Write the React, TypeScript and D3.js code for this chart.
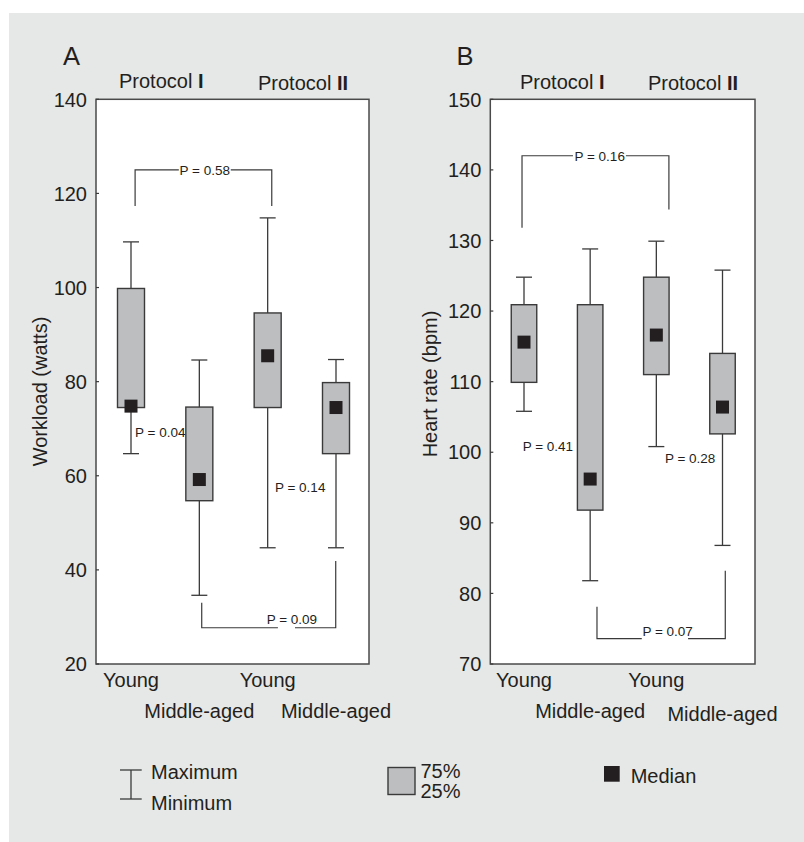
import React from "react";
import * as d3 from "d3";

// ---------- data ----------
const groups = ["Young", "Middle-aged", "Young", "Middle-aged"];
const protocols = ["I", "II"];

const workloadMin = [64.7, 34.6, 44.7, 44.7];
const workloadQ1 = [74.5, 54.7, 74.5, 64.7];
const workloadMedian = [74.8, 59.2, 85.5, 74.5];
const workloadQ3 = [99.8, 74.6, 94.6, 79.8];
const workloadMax = [109.7, 84.6, 114.8, 84.7];
const workloadTicks = [20, 40, 60, 80, 100, 120, 140];

const heartMin = [105.8, 81.8, 100.8, 86.8];
const heartQ1 = [109.9, 91.8, 111.0, 102.6];
const heartMedian = [115.6, 96.2, 116.6, 106.4];
const heartQ3 = [120.9, 120.9, 124.8, 114.0];
const heartMax = [124.8, 128.8, 129.9, 125.8];
const heartTicks = [70, 80, 90, 100, 110, 120, 130, 140, 150];

// annotations in data units (x = category index, y = value)
const workloadBrackets = [
  {
    label: "P = 0.58",
    segments: [
      [[0.06, 117.3], [0.06, 125], [0.7, 125]],
      [[1.46, 125], [2.06, 125], [2.06, 117.3]],
    ],
    text: [1.08, 125],
    anchor: "middle",
  },
  {
    label: "P = 0.09",
    segments: [
      [[1.035, 33.0], [1.035, 27.7], [2.15, 27.7]],
      [[2.4, 27.7], [2.996, 27.7], [2.996, 41.9]],
    ],
    text: [1.986, 29.5],
    anchor: "start",
  },
];
const workloadNotes = [
  { label: "P = 0.04", at: [0.06, 69.2] },
  { label: "P = 0.14", at: [2.107, 57.5] },
];

const heartBrackets = [
  {
    label: "P = 0.16",
    segments: [
      [[-0.03, 131.8], [-0.03, 142], [0.74, 142]],
      [[1.54, 142], [2.19, 142], [2.19, 134.4]],
    ],
    text: [1.144, 142],
    anchor: "middle",
  },
  {
    label: "P = 0.07",
    segments: [
      [[1.103, 78.1], [1.103, 73.6], [1.78, 73.6]],
      [[2.48, 73.6], [3.042, 73.6], [3.042, 83.2]],
    ],
    text: [1.79, 74.7],
    anchor: "start",
  },
];
const heartNotes = [
  { label: "P = 0.41", at: [-0.02, 100.8] },
  { label: "P = 0.28", at: [2.13, 99.1] },
];

// ---------- styles ----------
const FONT = "'Liberation Sans', Arial, Helvetica, sans-serif";
const TEXT = "#231f20";
const LINE = "#3a3a3a";
const BOXFILL = "#bdbec0";
const BG = "#e6e7e7";
const FS = 20;
const PFS = 13.5;

type PanelProps = {
  letter: string;
  letterX: number;
  left: number;
  right: number;
  catRange: [number, number];
  domain: [number, number];
  ticks: number[];
  mins: number[];
  q1: number[];
  med: number[];
  q3: number[];
  maxs: number[];
  boxW: number;
  yLabel: string;
  yLabelX: number;
  yLabelY: number;
  protoPos: { x: number; y: number }[];
  brackets: any[];
  notes: any[];
  xLabelY: number[];
};

function Panel(p: PanelProps) {
  const top = 99.3;
  const bottom = 664;
  const y = d3.scaleLinear().domain(p.domain).range([bottom, top]);
  const xi = d3.scaleLinear().domain([0, groups.length - 1]).range(p.catRange);
  const capW = 16;
  const medS = 13;
  const line = d3
    .line<number[]>()
    .x((d) => xi(d[0]))
    .y((d) => y(d[1]));

  return (
    <g>
      <text x={p.letterX} y={65} fontSize={25.5} fill={TEXT} fontFamily={FONT}>
        {p.letter}
      </text>
      {protocols.map((pr, i) => (
        <text
          key={pr}
          x={p.protoPos[i].x}
          y={p.protoPos[i].y}
          fontSize={FS}
          fill={TEXT}
          fontFamily={FONT}
        >
          Protocol <tspan fontWeight="bold">{pr}</tspan>
        </text>
      ))}
      <rect
        x={p.left}
        y={top}
        width={p.right - p.left}
        height={bottom - top}
        fill="#ffffff"
        stroke="#4a4a4a"
        strokeWidth={1.5}
      />
      {p.ticks.map((t) => (
        <g key={t}>
          <line
            x1={p.left}
            x2={p.left + 3}
            y1={y(t)}
            y2={y(t)}
            stroke={LINE}
            strokeWidth={1.2}
          />
          <text
            x={p.left - 9}
            y={y(t)}
            dy="0.36em"
            textAnchor="end"
            fontSize={FS}
            fill={TEXT}
            fontFamily={FONT}
          >
            {t}
          </text>
        </g>
      ))}
      <text
        transform={`translate(${p.yLabelX},${p.yLabelY}) rotate(-90)`}
        textAnchor="middle"
        fontSize={FS}
        fill={TEXT}
        fontFamily={FONT}
      >
        {p.yLabel}
      </text>
      {groups.map((g, i) => {
        const cx = xi(i);
        return (
          <g key={i}>
            <line x1={cx} x2={cx} y1={y(p.maxs[i])} y2={y(p.mins[i])} stroke={LINE} strokeWidth={1.3} />
            <line x1={cx - capW / 2} x2={cx + capW / 2} y1={y(p.maxs[i])} y2={y(p.maxs[i])} stroke={LINE} strokeWidth={1.3} />
            <line x1={cx - capW / 2} x2={cx + capW / 2} y1={y(p.mins[i])} y2={y(p.mins[i])} stroke={LINE} strokeWidth={1.3} />
            <rect
              x={cx - p.boxW / 2}
              y={y(p.q3[i])}
              width={p.boxW}
              height={y(p.q1[i]) - y(p.q3[i])}
              fill={BOXFILL}
              stroke={LINE}
              strokeWidth={1.4}
            />
            <rect
              x={cx - medS / 2}
              y={y(p.med[i]) - medS / 2}
              width={medS}
              height={medS}
              fill={TEXT}
            />
            <text
              x={cx}
              y={p.xLabelY[i]}
              textAnchor="middle"
              fontSize={FS}
              fill={TEXT}
              fontFamily={FONT}
            >
              {g}
            </text>
          </g>
        );
      })}
      {p.brackets.map((b, i) => (
        <g key={i}>
          {b.segments.map((s: number[][], j: number) => (
            <path key={j} d={line(s) || ""} fill="none" stroke={LINE} strokeWidth={1.2} />
          ))}
          <text
            x={xi(b.text[0])}
            y={y(b.text[1]) + 4.8}
            textAnchor={b.anchor}
            fontSize={PFS}
            fill={TEXT}
            fontFamily={FONT}
          >
            {b.label}
          </text>
        </g>
      ))}
      {p.notes.map((n, i) => (
        <text
          key={i}
          x={xi(n.at[0])}
          y={y(n.at[1]) + 4.8}
          fontSize={PFS}
          fill={TEXT}
          fontFamily={FONT}
        >
          {n.label}
        </text>
      ))}
    </g>
  );
}

export default function App() {
  return (
    <svg
      width={804}
      height={842}
      style={{ position: "absolute", left: 0, top: 0 }}
      xmlns="http://www.w3.org/2000/svg"
    >
      <rect x={0} y={0} width={804} height={842} fill="#ffffff" />
      <rect x={9} y={13} width={795} height={829} fill={BG} />
      <Panel
        letter="A"
        letterX={63}
        left={96}
        right={369}
        catRange={[131, 336]}
        domain={[20, 140]}
        ticks={workloadTicks}
        mins={workloadMin}
        q1={workloadQ1}
        med={workloadMedian}
        q3={workloadQ3}
        maxs={workloadMax}
        boxW={27}
        yLabel="Workload (watts)"
        yLabelX={47}
        yLabelY={391.5}
        protoPos={[
          { x: 119, y: 87.5 },
          { x: 258, y: 90 },
        ]}
        brackets={workloadBrackets}
        notes={workloadNotes}
        xLabelY={[687, 718, 687, 718]}
      />
      <Panel
        letter="B"
        letterX={456.5}
        left={490.3}
        right={755}
        catRange={[524, 722.5]}
        domain={[70, 150]}
        ticks={heartTicks}
        mins={heartMin}
        q1={heartQ1}
        med={heartMedian}
        q3={heartQ3}
        maxs={heartMax}
        boxW={25.5}
        yLabel="Heart rate (bpm)"
        yLabelX={437}
        yLabelY={384}
        protoPos={[
          { x: 520, y: 89.3 },
          { x: 648, y: 90 },
        ]}
        brackets={heartBrackets}
        notes={heartNotes}
        xLabelY={[687, 718, 687, 721]}
      />
      {/* legend */}
      <g>
        <line x1={120} x2={141.7} y1={770} y2={770} stroke={LINE} strokeWidth={1.3} />
        <line x1={120} x2={141.7} y1={799} y2={799} stroke={LINE} strokeWidth={1.3} />
        <line x1={131} x2={131} y1={770} y2={799} stroke={LINE} strokeWidth={1.3} />
        <text x={151} y={779} fontSize={FS} fill={TEXT} fontFamily={FONT}>Maximum</text>
        <text x={151} y={810} fontSize={FS} fill={TEXT} fontFamily={FONT}>Minimum</text>
        <rect x={388} y={767.5} width={27} height={27} fill={BOXFILL} stroke={LINE} strokeWidth={1.4} />
        <text x={420.5} y={777.7} fontSize={FS} fill={TEXT} fontFamily={FONT}>75%</text>
        <text x={420.5} y={798.3} fontSize={FS} fill={TEXT} fontFamily={FONT}>25%</text>
        <rect x={604} y={766} width={15.7} height={15.7} fill={TEXT} />
        <text x={630.7} y={782.7} fontSize={FS} fill={TEXT} fontFamily={FONT}>Median</text>
      </g>
    </svg>
  );
}
